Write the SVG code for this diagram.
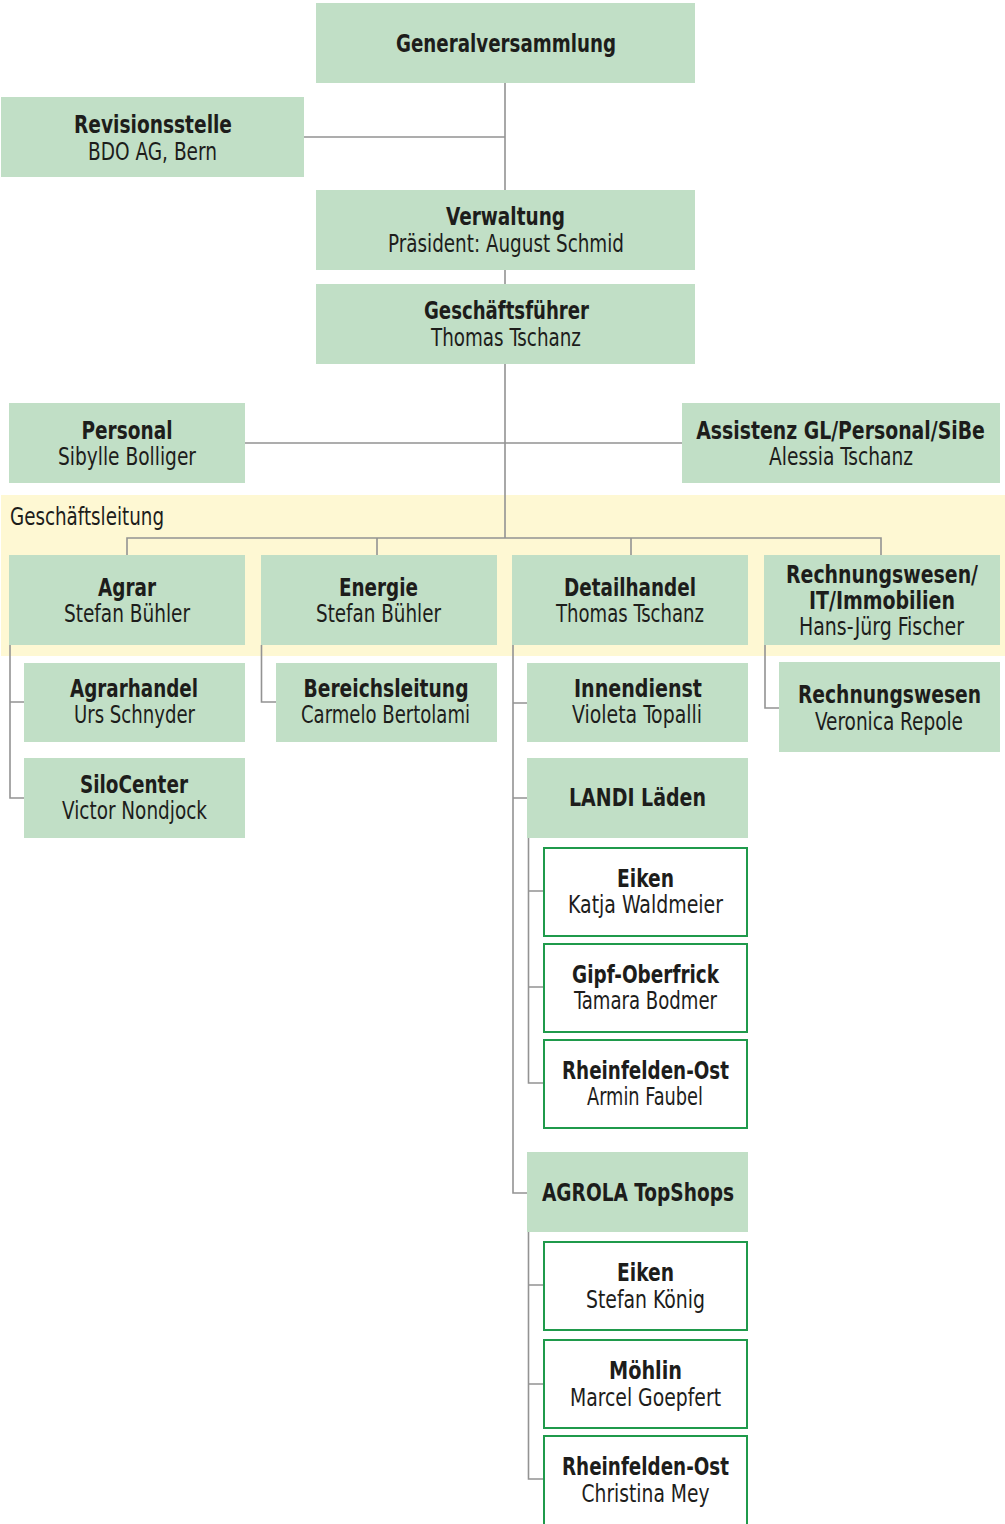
<svg xmlns="http://www.w3.org/2000/svg" width="1005" height="1524" viewBox="0 0 1005 1524">
<style>
.bg{fill:#ffffff}
.band{fill:#fef8d3}
.box{fill:#c1dfc6}
.shop{fill:#ffffff;stroke:#1f9a4b;stroke-width:2}
.conn{stroke:#939393;stroke-width:1.6;fill:none}
text{font-family:"Liberation Sans Narrow","DejaVu Sans Condensed","Liberation Sans",sans-serif;font-size:25px;fill:#1d1d1b;text-anchor:middle}
.b{font-weight:bold}
.n{font-weight:normal}
.l{text-anchor:start}
</style>
<rect class="bg" x="0" y="0" width="1005" height="1524"/>
<rect class="band" x="1" y="495" width="1004" height="161"/>
<g id="connectors">
<path class="conn" d="M505,83V190M304,137H505M505,270V284M505,364V538M245,443H682M127,555V538H881V555M377,538V555M631,538V555"/>
<path class="conn" d="M10,645V798H24M10,702H24"/>
<path class="conn" d="M261.5,645V702H276"/>
<path class="conn" d="M513,645V1193H527M513,703H527M513,798H527"/>
<path class="conn" d="M528.5,838V1083H543M528.5,891H543M528.5,987H543"/>
<path class="conn" d="M528.5,1232V1479H543M528.5,1285H543M528.5,1384H543"/>
<path class="conn" d="M765,645V708H779"/>
</g>
<g id="generalversammlung"><rect class="box" x="316" y="3" width="379" height="80"/><text class="b" x="506" y="52" textLength="220" lengthAdjust="spacingAndGlyphs">Generalversammlung</text></g>
<g id="revisionsstelle"><rect class="box" x="1" y="97" width="303" height="80"/><text class="b" x="153" y="133" textLength="158" lengthAdjust="spacingAndGlyphs">Revisionsstelle</text><text class="n" x="152.5" y="160" textLength="129" lengthAdjust="spacingAndGlyphs">BDO AG, Bern</text></g>
<g id="verwaltung"><rect class="box" x="316" y="190" width="379" height="80"/><text class="b" x="505.5" y="225" textLength="119" lengthAdjust="spacingAndGlyphs">Verwaltung</text><text class="n" x="506" y="252" textLength="236" lengthAdjust="spacingAndGlyphs">Präsident: August Schmid</text></g>
<g id="geschaeftsfuehrer"><rect class="box" x="316" y="284" width="379" height="80"/><text class="b" x="506.5" y="319" textLength="165" lengthAdjust="spacingAndGlyphs">Geschäftsführer</text><text class="n" x="506" y="346" textLength="150" lengthAdjust="spacingAndGlyphs">Thomas Tschanz</text></g>
<g id="personal"><rect class="box" x="9" y="403" width="236" height="80"/><text class="b" x="127" y="439" textLength="91" lengthAdjust="spacingAndGlyphs">Personal</text><text class="n" x="127" y="465" textLength="138" lengthAdjust="spacingAndGlyphs">Sibylle Bolliger</text></g>
<g id="assistenz"><rect class="box" x="682" y="403" width="318" height="80"/><text class="b" transform="translate(840.5,439) scale(0.72,1)" x="0" y="0" textLength="401" lengthAdjust="spacingAndGlyphs">Assistenz GL/Personal/SiBe</text><text class="n" x="841" y="465" textLength="144" lengthAdjust="spacingAndGlyphs">Alessia Tschanz</text></g>
<g id="geschaeftsleitung-label"><text class="n l" x="10" y="525" textLength="154" lengthAdjust="spacingAndGlyphs">Geschäftsleitung</text></g>
<g id="agrar"><rect class="box" x="9" y="555" width="236" height="90"/><text class="b" x="127" y="596" textLength="58" lengthAdjust="spacingAndGlyphs">Agrar</text><text class="n" x="127" y="622" textLength="126" lengthAdjust="spacingAndGlyphs">Stefan Bühler</text></g>
<g id="energie"><rect class="box" x="261" y="555" width="236" height="90"/><text class="b" x="378.5" y="596" textLength="79" lengthAdjust="spacingAndGlyphs">Energie</text><text class="n" x="378.5" y="622" textLength="125" lengthAdjust="spacingAndGlyphs">Stefan Bühler</text></g>
<g id="detailhandel"><rect class="box" x="512" y="555" width="236" height="90"/><text class="b" x="630" y="596" textLength="132" lengthAdjust="spacingAndGlyphs">Detailhandel</text><text class="n" x="630" y="622" textLength="148" lengthAdjust="spacingAndGlyphs">Thomas Tschanz</text></g>
<g id="rechnungswesen-it"><rect class="box" x="764" y="555" width="236" height="90"/><text class="b" transform="translate(882,583) scale(0.8,1)" x="0" y="0" textLength="240" lengthAdjust="spacingAndGlyphs">Rechnungswesen/</text><text class="b" x="882" y="609" textLength="146" lengthAdjust="spacingAndGlyphs">IT/Immobilien</text><text class="n" x="881.5" y="635" textLength="165" lengthAdjust="spacingAndGlyphs">Hans-Jürg Fischer</text></g>
<g id="agrarhandel"><rect class="box" x="24" y="663" width="221" height="79"/><text class="b" x="134" y="697" textLength="128" lengthAdjust="spacingAndGlyphs">Agrarhandel</text><text class="n" x="134.5" y="723" textLength="121" lengthAdjust="spacingAndGlyphs">Urs Schnyder</text></g>
<g id="silocenter"><rect class="box" x="24" y="758" width="221" height="80"/><text class="b" x="134" y="793" textLength="108" lengthAdjust="spacingAndGlyphs">SiloCenter</text><text class="n" x="134.5" y="819" textLength="145" lengthAdjust="spacingAndGlyphs">Victor Nondjock</text></g>
<g id="bereichsleitung"><rect class="box" x="276" y="663" width="221" height="79"/><text class="b" x="386" y="697" textLength="165" lengthAdjust="spacingAndGlyphs">Bereichsleitung</text><text class="n" x="385.5" y="723" textLength="169" lengthAdjust="spacingAndGlyphs">Carmelo Bertolami</text></g>
<g id="innendienst"><rect class="box" x="527" y="663" width="221" height="79"/><text class="b" x="638" y="697" textLength="128" lengthAdjust="spacingAndGlyphs">Innendienst</text><text class="n" x="637" y="723" textLength="130" lengthAdjust="spacingAndGlyphs">Violeta Topalli</text></g>
<g id="rechnungswesen"><rect class="box" x="779" y="662" width="221" height="90"/><text class="b" transform="translate(889.5,703) scale(0.8,1)" x="0" y="0" textLength="229" lengthAdjust="spacingAndGlyphs">Rechnungswesen</text><text class="n" x="889" y="730" textLength="148" lengthAdjust="spacingAndGlyphs">Veronica Repole</text></g>
<g id="landi-laeden"><rect class="box" x="527" y="758" width="221" height="80"/><text class="b" x="637.5" y="806" textLength="137" lengthAdjust="spacingAndGlyphs">LANDI Läden</text></g>
<g id="landi-eiken"><rect class="shop" x="544" y="848" width="203" height="88"/><text class="b" x="645.5" y="887" textLength="57" lengthAdjust="spacingAndGlyphs">Eiken</text><text class="n" x="645.5" y="913" textLength="155" lengthAdjust="spacingAndGlyphs">Katja Waldmeier</text></g>
<g id="landi-gipf-oberfrick"><rect class="shop" x="544" y="944" width="203" height="88"/><text class="b" x="645.5" y="983" textLength="147" lengthAdjust="spacingAndGlyphs">Gipf-Oberfrick</text><text class="n" x="645.5" y="1009" textLength="143" lengthAdjust="spacingAndGlyphs">Tamara Bodmer</text></g>
<g id="landi-rheinfelden-ost"><rect class="shop" x="544" y="1040" width="203" height="88"/><text class="b" x="645.5" y="1079" textLength="167" lengthAdjust="spacingAndGlyphs">Rheinfelden-Ost</text><text class="n" x="645" y="1105" textLength="116" lengthAdjust="spacingAndGlyphs">Armin Faubel</text></g>
<g id="agrola-topshops"><rect class="box" x="527" y="1152" width="221" height="80"/><text class="b" x="638" y="1201" textLength="192" lengthAdjust="spacingAndGlyphs">AGROLA TopShops</text></g>
<g id="agrola-eiken"><rect class="shop" x="544" y="1242" width="203" height="88"/><text class="b" x="645.5" y="1281" textLength="57" lengthAdjust="spacingAndGlyphs">Eiken</text><text class="n" x="645.5" y="1308" textLength="119" lengthAdjust="spacingAndGlyphs">Stefan König</text></g>
<g id="agrola-moehlin"><rect class="shop" x="544" y="1340" width="203" height="88"/><text class="b" x="645.5" y="1379" textLength="73" lengthAdjust="spacingAndGlyphs">Möhlin</text><text class="n" x="645.5" y="1406" textLength="151" lengthAdjust="spacingAndGlyphs">Marcel Goepfert</text></g>
<g id="agrola-rheinfelden-ost"><rect class="shop" x="544" y="1436" width="203" height="100"/><text class="b" x="645.5" y="1475" textLength="167" lengthAdjust="spacingAndGlyphs">Rheinfelden-Ost</text><text class="n" x="645.5" y="1502" textLength="128" lengthAdjust="spacingAndGlyphs">Christina Mey</text></g>
</svg>
